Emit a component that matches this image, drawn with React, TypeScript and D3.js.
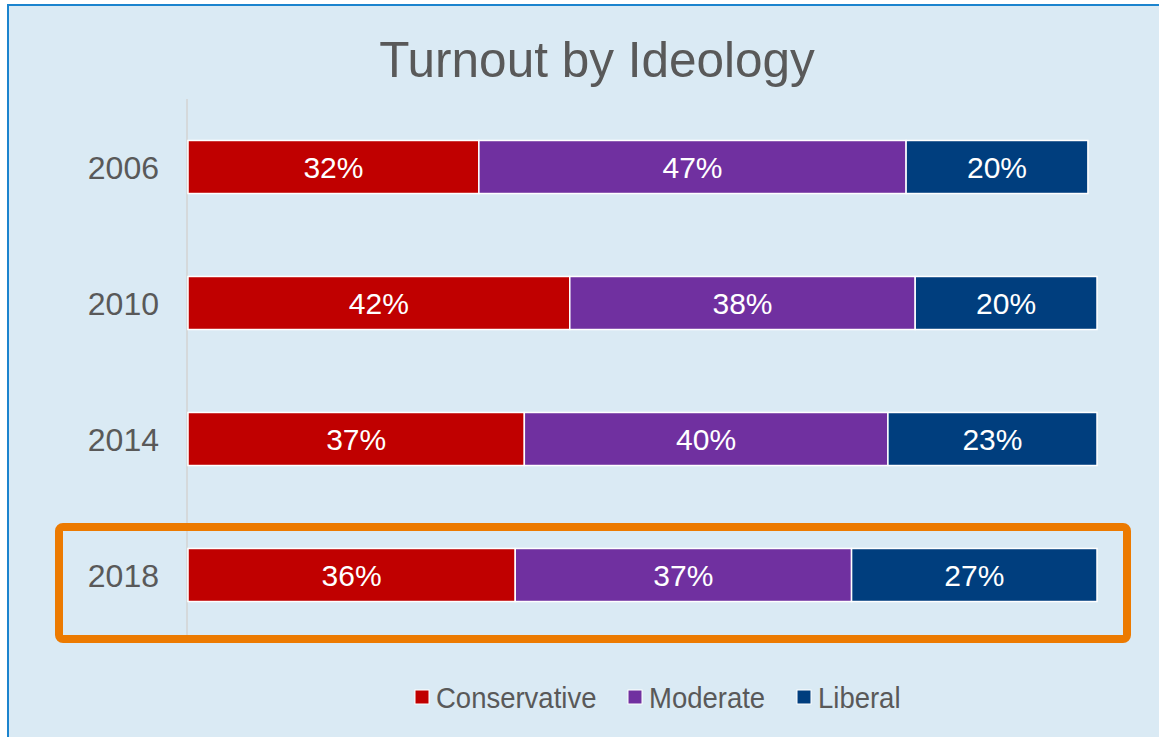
import React from "react";
import * as d3 from "d3";

const years = ["2006", "2010", "2014", "2018"];
const seriesNames = ["Conservative", "Moderate", "Liberal"];
const conservative = [32, 42, 37, 36];
const moderate = [47, 38, 40, 37];
const liberal = [20, 20, 23, 27];
const colors = ["#C00000", "#7030A0", "#003E7E"];
const highlightYear = "2018";

const W = 1159;
const H = 737;
const FONT = "'Liberation Sans', Arial, sans-serif";

export default function App() {
  const rows = years.map((y, i) => ({
    year: y,
    Conservative: conservative[i],
    Moderate: moderate[i],
    Liberal: liberal[i],
  }));
  const stack = d3.stack<any>().keys(seriesNames)(rows);

  const x = d3.scaleLinear().domain([0, 100]).range([188, 1097]);
  const y = d3.scaleBand().domain(years).range([99, 643]).paddingInner(0.61).paddingOuter(0.305);

  const legendX = [415, 628, 797];

  const hy = y(highlightYear)!;

  return (
    <svg
      width={W}
      height={H}
      style={{ position: "absolute", left: 0, top: 0, display: "block" }}
      fontFamily={FONT}
    >
      <rect x={0} y={0} width={W} height={H} fill="#ffffff" />
      <rect x={8} y={5} width={W + 50} height={H + 50} fill="#DAEAF4" stroke="#1C84CE" strokeWidth={2} />

      <text x={597} y={77} textAnchor="middle" fontSize={49.5} fill="#595959">
        Turnout by Ideology
      </text>

      {/* axis line */}
      <line x1={x(0) - 1} x2={x(0) - 1} y1={y.range()[0]} y2={y.range()[1]} stroke="#D3D3D3" strokeWidth={1.5} />

      {years.map((yr) => (
        <text
          key={yr}
          x={159}
          y={y(yr)! + y.bandwidth() / 2}
          dy="0.36em"
          textAnchor="end"
          fontSize={32}
          fill="#595959"
        >
          {yr}
        </text>
      ))}

      {stack.map((s, si) => (
        <g key={s.key}>
          {s.map((d, i) => (
            <g key={i}>
              <rect
                x={x(d[0])}
                y={y(years[i])!}
                width={x(d[1]) - x(d[0])}
                height={y.bandwidth()}
                fill={colors[si]}
                stroke="#ffffff"
                strokeWidth={1.5}
              />
              <text
                x={(x(d[0]) + x(d[1])) / 2}
                y={y(years[i])! + y.bandwidth() / 2}
                dy="0.36em"
                textAnchor="middle"
                fontSize={30}
                fill="#ffffff"
              >
                {d[1] - d[0]}%
              </text>
            </g>
          ))}
        </g>
      ))}

      {/* highlight box */}
      <rect
        x={59}
        y={hy + y.bandwidth() / 2 - 48}
        width={1068}
        height={112}
        rx={4}
        fill="none"
        stroke="#EC7A00"
        strokeWidth={8}
      />

      {seriesNames.map((n, i) => (
        <g key={n} transform={`translate(${legendX[i]},0)`}>
          <rect x={0} y={690} width={14} height={14} fill={colors[i]} stroke="#ffffff" strokeWidth={1} />
          <g transform="translate(21,708) scale(1,1.08)">
            <text x={0} y={0} fontSize={27.5} fill="#595959">
              {n}
            </text>
          </g>
        </g>
      ))}
    </svg>
  );
}
